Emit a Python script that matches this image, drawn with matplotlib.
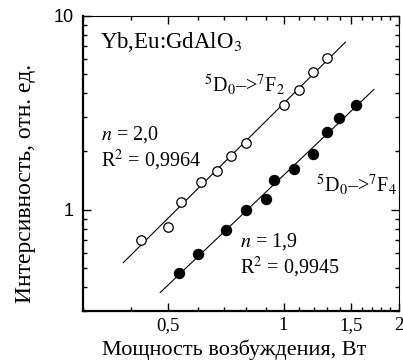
import numpy as np
import matplotlib
matplotlib.use("Agg")
import matplotlib.pyplot as plt
from matplotlib.ticker import FixedLocator, FuncFormatter, LogLocator, NullFormatter

plt.rcParams['font.family'] = ['Liberation Serif', 'DejaVu Serif']
plt.rcParams['mathtext.fontset'] = 'stix'

# 5D0->7F2 (open circles)
power_f2 = [0.425, 0.50, 0.54, 0.611, 0.67, 0.728, 0.798, 1.0, 1.10, 1.195, 1.30]
intens_f2 = [0.70, 0.81, 1.10, 1.39, 1.58, 1.90, 2.21, 3.47, 4.15, 5.16, 6.05]
fit_range_f2 = [0.382, 1.45]

# 5D0->7F4 (filled circles)
power_f4 = [0.535, 0.60, 0.71, 0.798, 0.898, 0.947, 1.064, 1.19, 1.296, 1.392, 1.544]
intens_f4 = [0.469, 0.592, 0.79, 1.0, 1.14, 1.42, 1.62, 1.93, 2.51, 2.98, 3.47]
fit_range_f4 = [0.477, 1.72]

x_ticks = [0.5, 1, 1.5, 2]
x_labels = ['0,5', '1', '1,5', '2']

fig = plt.figure(figsize=(4.03, 3.63), dpi=100)
ax = fig.add_axes([0.206, 0.143, 0.784, 0.813])
ax.set_xscale('log')
ax.set_yscale('log')

# power-law fits in log space
for px, py, rng in [(power_f2, intens_f2, fit_range_f2), (power_f4, intens_f4, fit_range_f4)]:
    k, b = np.polyfit(np.log10(px), np.log10(py), 1)
    xs = np.array(rng)
    ax.plot(xs, 10 ** (b + k * np.log10(xs)), color='black', lw=0.8, zorder=1)

ax.plot(power_f2, intens_f2, 'o', mfc='white', mec='black', mew=0.9, ms=6.8, zorder=2)
ax.plot(power_f4, intens_f4, 'o', mfc='black', mec='black', ms=7.2, zorder=2)

ax.set_xlim(0.3, 2)
ax.set_ylim(0.3, 10)

ax.xaxis.set_major_locator(FixedLocator(x_ticks))
ax.xaxis.set_major_formatter(FuncFormatter(lambda v, p: x_labels[x_ticks.index(v)] if v in x_ticks else ''))
ax.xaxis.set_minor_locator(FixedLocator(np.round(np.arange(0.3, 2.0, 0.1), 2)))
ax.xaxis.set_minor_formatter(NullFormatter())
ax.yaxis.set_major_locator(FixedLocator([1, 10]))
ax.yaxis.set_major_formatter(FuncFormatter(lambda v, p: '%d' % v))
ax.yaxis.set_minor_locator(LogLocator(base=10, subs=np.arange(2, 10)))
ax.yaxis.set_minor_formatter(NullFormatter())

ax.tick_params(which='both', direction='in', top=True, right=True)
ax.tick_params(which='major', length=6, width=1)
ax.tick_params(which='minor', length=3, width=1)
ax.tick_params(axis='x', labelsize=13.5, pad=4)
ax.tick_params(axis='y', labelsize=13, pad=7)
for lab in ax.get_yticklabels():
    lab.set_family('Liberation Sans')

ax.spines['left'].set_linewidth(1.6)
ax.spines['bottom'].set_linewidth(1.6)
ax.spines['top'].set_linewidth(0.8)
ax.spines['right'].set_linewidth(0.8)

ax.set_xlabel('Мощность возбуждения, Вт', fontsize=16)
ax.set_ylabel('Интерсивность, отн. ед.', fontsize=17)
ax.xaxis.set_label_coords(0.478, -0.097)
ax.yaxis.set_label_coords(-0.15, 0.434)

t = dict(transform=ax.transAxes, fontsize=14.5, va='baseline', ha='left')
ax.text(0.054, 0.890, 'Yb,Eu:GdAlO$_3$', **dict(t, fontsize=16.5))
ax.text(0.383, 0.743, '$^5$D$_0$\u2013>$^7$F$_2$', **t)
ax.text(0.737, 0.404, '$^5$D$_0$\u2013>$^7$F$_4$', **t)
ax.text(0.056, 0.580, '$n$ = 2,0', **t)
ax.text(0.056, 0.489, 'R$^2$ = 0,9964', **t)
ax.text(0.497, 0.218, '$n$ = 1,9', **t)
ax.text(0.497, 0.128, 'R$^2$ = 0,9945', **t)

fig.savefig('out.png', dpi=100)
